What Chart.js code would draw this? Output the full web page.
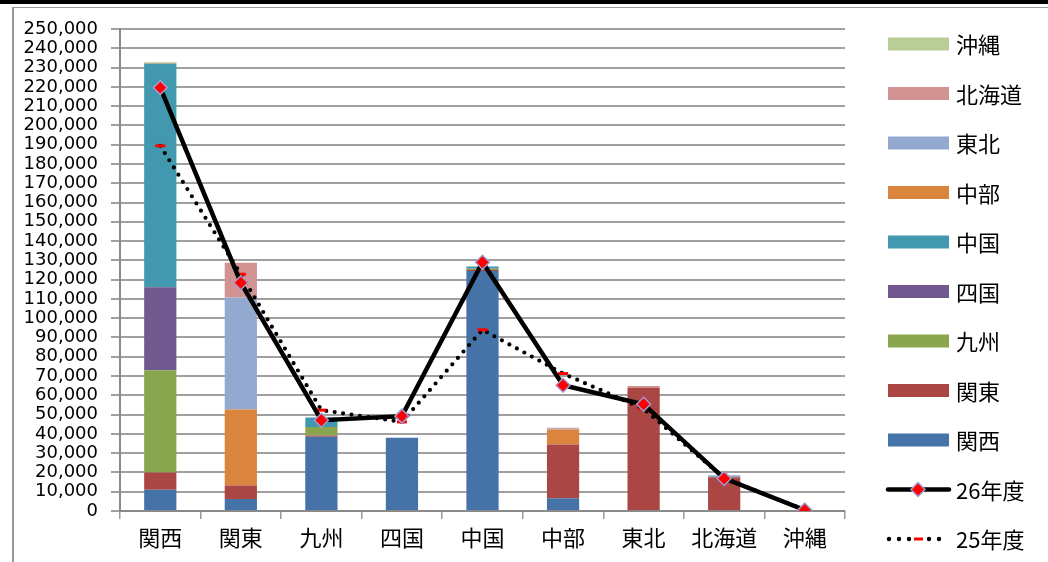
<!DOCTYPE html>
<html>
<head>
<meta charset="utf-8">
<script src="https://cdn.jsdelivr.net/npm/chart.js@4"></script>
<style>
  html, body { margin: 0; padding: 0; background: #fff; }
  #wrap { position: absolute; left: 0; top: 0; width: 1048px; height: 562px; }
  .topbar { position: absolute; left: 0; top: 0; width: 1048px; height: 4px; background: #000; }
  .frame-top { position: absolute; left: 12px; top: 7px; width: 1036px; height: 1px; background: #9a9a9a; }
  .frame-left { position: absolute; left: 12px; top: 7px; width: 2px; height: 555px; background: #9a9a9a; }
</style>
</head>
<body>
<div id="wrap"><canvas id="chart"></canvas></div>
<div class="topbar"></div>
<div class="frame-top"></div>
<div class="frame-left"></div>
<script>
const CATEGORIES = ['関西', '関東', '九州', '四国', '中国', '中部', '東北', '北海道', '沖縄'];
const Y_MAX = 250000;
const Y_STEP = 10000;

// stacked bars, one array per origin region (values per destination)
const KANSAI   = [11000,  6200, 38500, 38000, 124500,  6600,     0,     0, 0];
const KANTO    = [ 9000,  7000,   600,     0,    500, 27900, 63800, 17500, 0];
const KYUSHU   = [53000,     0,  4500,     0,    600,     0,     0,     0, 0];
const SHIKOKU  = [43000,     0,     0,     0,    300,     0,     0,     0, 0];
const CHUGOKU  = [116000,    0,  4900,     0,    900,     0,     0,     0, 0];
const CHUBU    = [  300, 39500,     0,     0,      0,  7800,     0,     0, 0];
const TOHOKU   = [    0, 58000,     0,     0,      0,   400,     0,  1000, 0];
const HOKKAIDO = [    0, 18000,     0,     0,      0,   500,  1000,     0, 0];
const OKINAWA  = [  500,     0,     0,     0,      0,     0,     0,     0, 0];

// yearly totals (lines)
const FY26 = [219600, 118400, 47100, 49200, 129000, 65200, 55400, 16900, 500];
const FY25 = [189400, 122800, 52300, 46200,  94000, 71300, 53000, 17000, 600];

const BAR_SERIES = [
  ['関西', KANSAI, '#4572A7'],
  ['関東', KANTO, '#AA4643'],
  ['九州', KYUSHU, '#89A54E'],
  ['四国', SHIKOKU, '#71588F'],
  ['中国', CHUGOKU, '#4198AF'],
  ['中部', CHUBU, '#DB843D'],
  ['東北', TOHOKU, '#93A9CF'],
  ['北海道', HOKKAIDO, '#D19392'],
  ['沖縄', OKINAWA, '#B9CD96'],
];

const FONT_CJK = '"Noto Sans CJK JP", "DejaVu Sans", sans-serif';
const FONT_NUM = '"DejaVu Sans", "Noto Sans CJK JP", sans-serif';

const datasets = BAR_SERIES.map(([label, data, color]) => ({
  type: 'bar',
  label,
  data,
  backgroundColor: color,
  stack: 'bars',
  order: 2,
  barPercentage: 0.4,
  categoryPercentage: 1,
}));

datasets.push({
  type: 'line',
  label: '26年度',
  data: FY26,
  stack: 'fy26',
  order: 0,
  borderColor: '#000',
  borderWidth: 4.5,
  pointStyle: 'rectRot',
  pointRadius: 7,
  pointBackgroundColor: '#ff0000',
  pointBorderColor: '#a39bd3',
  pointBorderWidth: 1.5,
  tension: 0,
});
datasets.push({
  type: 'line',
  label: '25年度',
  data: FY25,
  stack: 'fy25',
  order: 1,
  borderColor: '#000',
  borderWidth: 4.2,
  borderDash: [0, 8.5],
  borderCapStyle: 'round',
  pointStyle: 'line',
  pointRadius: 5,
  pointBorderColor: '#ff0000',
  pointBorderWidth: 3,
  tension: 0,
});

// legend drawn on the right, Excel style
const sideLegend = {
  id: 'sideLegend',
  afterDraw(chart) {
    const ctx = chart.ctx;
    const items = chart.data.datasets.slice(0, BAR_SERIES.length).reverse()
      .concat(chart.data.datasets.slice(BAR_SERIES.length));
    const x0 = 888, x1 = 949, tx = 956, y0 = 44, gap = 49.5;
    ctx.save();
    ctx.font = '22px ' + FONT_CJK;
    ctx.textBaseline = 'middle';
    ctx.fillStyle = '#000';
    items.forEach((ds, i) => {
      const y = y0 + i * gap;
      if (ds.type === 'bar') {
        ctx.fillStyle = ds.backgroundColor;
        ctx.fillRect(x0, y - 6.5, x1 - x0, 13);
      } else if (ds.label === '26年度') {
        ctx.strokeStyle = '#000';
        ctx.lineWidth = 4.5;
        ctx.lineCap = 'round';
        ctx.beginPath(); ctx.moveTo(x0, y); ctx.lineTo(x1, y); ctx.stroke();
        ctx.fillStyle = '#ff0000';
        ctx.strokeStyle = '#a39bd3';
        ctx.lineWidth = 1.5;
        ctx.beginPath();
        ctx.moveTo(918, y - 7); ctx.lineTo(925, y); ctx.lineTo(918, y + 7); ctx.lineTo(911, y);
        ctx.closePath(); ctx.fill(); ctx.stroke();
      } else {
        ctx.fillStyle = '#000';
        [889, 899, 909, 929, 939].forEach(px => {
          ctx.beginPath(); ctx.arc(px, y, 2.2, 0, Math.PI * 2); ctx.fill();
        });
        ctx.fillStyle = '#ff0000';
        ctx.fillRect(914, y - 1.5, 9, 3);
      }
      ctx.fillStyle = '#000';
      ctx.fillText(ds.label, tx, y + 1);
    });
    ctx.restore();
  },
};

new Chart(document.getElementById('chart'), {
  data: { labels: CATEGORIES, datasets },
  plugins: [sideLegend],
  options: {
    responsive: true,
    maintainAspectRatio: false,
    animation: false,
    layout: { padding: { top: 29, right: 203, left: 0, bottom: 0 } },
    plugins: { legend: { display: false }, tooltip: { enabled: false } },
    scales: {
      x: {
        stacked: true,
        grid: { drawOnChartArea: false, drawTicks: true, tickLength: 8, color: '#999', lineWidth: 1.5, offset: true },
        border: { color: '#8a8a8a', width: 2 },
        ticks: { color: '#000', font: { family: FONT_CJK, size: 22 }, padding: 5, maxRotation: 0 },
        afterFit(scale) { scale.height = 51; },
      },
      y: {
        stacked: true,
        min: 0,
        max: Y_MAX,
        grid: { color: '#a0a0a0', lineWidth: 2, tickLength: 9 },
        border: { color: '#8a8a8a', width: 2 },
        ticks: {
          stepSize: Y_STEP,
          autoSkip: false,
          color: '#000',
          padding: 13,
          font: { family: FONT_NUM, size: 18, lineHeight: 1 },
          callback: v => v.toLocaleString('en-US'),
        },
        afterFit(scale) { scale.width = 120; },
      },
    },
  },
});
</script>
</body>
</html>
